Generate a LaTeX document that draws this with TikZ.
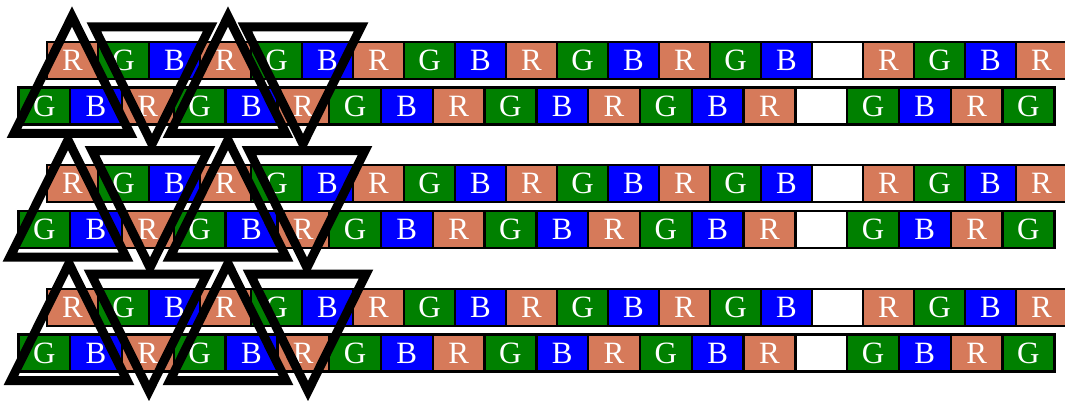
\documentclass[tikz,border=0pt]{standalone}
\usepackage{fontspec}
\setmainfont{Liberation Serif}
\usepackage{tikz}
\definecolor{cR}{HTML}{D67A5A}
\definecolor{cG}{HTML}{008000}
\definecolor{cB}{HTML}{0000FF}
\definecolor{cW}{HTML}{FFFFFF}
\tikzset{
  px/.style={draw=black, line width=2.4pt, inner sep=0pt, minimum height=37pt, text=white, font=\fontsize{31}{31}\selectfont},
  tri/.style={draw=black, line width=9pt, line join=miter},
}
% one row of subpixels: name, first centre x, centre y, pitch, letters (W = empty)
\newcommand{\pxrow}[5]{\foreach \ch [count=\i from 0] in {#5} {\node[px, fill=c\ch, minimum width=#4pt] (#1-\i) at ({#2+#4*\i},#3) {\if\ch W\else\ch\fi};}}
\newcommand{\upT}[2]{\draw[tri] (#1,#2) -- ++(-58,117) -- ++(116,0) -- cycle;}
\newcommand{\dnT}[2]{\draw[tri] (#1-58,#2) -- ++(116,0) -- ++(-58,117) -- cycle;}

\begin{document}
\begin{tikzpicture}[x=1pt,y=-1pt]
\useasboundingbox (0,0) rectangle (1065,401);
\foreach \p/\dy/\ua/\ub/\da/\db in {1/0/72/228/152/303, 2/123.5/68/228/150/307, 3/247/69/228/149/308}{
\begin{scope}[yshift=-\dy pt]
  \pxrow{r\p t}{72.5}{60.25}{51}{R,G,B,R,G,B,R,G,B,R,G,B,R,G,B,W,R,G,B,R}
  \pxrow{r\p b}{44.2}{106}{51.8}{G,B,R,G,B,R,G,B,R,G,B,R,G,B,R,W,G,B,R,G}
  \upT{\ua}{16.5}\upT{\ub}{16.5}
  \dnT{\da}{27}\dnT{\db}{27}
\end{scope}}
\end{tikzpicture}
\end{document}
